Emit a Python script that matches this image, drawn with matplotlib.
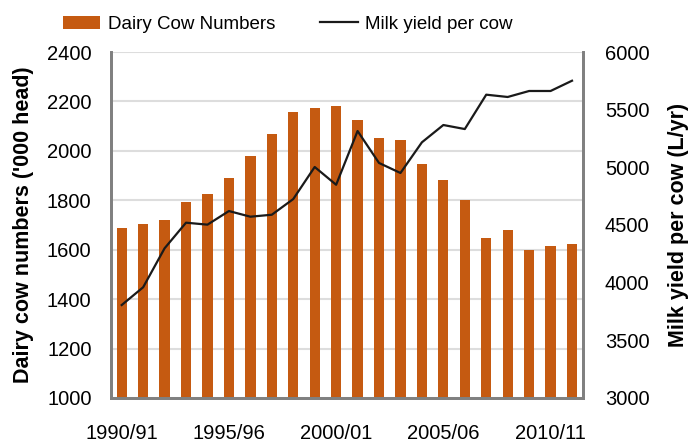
import matplotlib
matplotlib.use('Agg')
import matplotlib.pyplot as plt
import numpy as np

plt.rcParams['font.family'] = ['Liberation Sans', 'DejaVu Sans']

# financial years 1990/91 .. 2011/12
years = ['1990/91', '1991/92', '1992/93', '1993/94', '1994/95', '1995/96',
         '1996/97', '1997/98', '1998/99', '1999/00', '2000/01', '2001/02',
         '2002/03', '2003/04', '2004/05', '2005/06', '2006/07', '2007/08',
         '2008/09', '2009/10', '2010/11', '2011/12']
# dairy cow numbers ('000 head)
cows = [1687, 1704, 1720, 1792, 1824, 1889, 1978, 2067, 2156, 2172, 2180,
        2124, 2051, 2043, 1946, 1881, 1800, 1646, 1679, 1598, 1614, 1622]
# milk yield per cow (L/yr)
milk = [3806, 3960, 4298, 4520, 4503, 4621, 4572, 4589, 4725, 5003, 4849,
        5315, 5038, 4951, 5217, 5367, 5332, 5630, 5610, 5662, 5662, 5751]
shown_labels = ['1990/91', '1995/96', '2000/01', '2005/06', '2010/11']

bar_color = '#C55A11'
spine_color = '#808080'
grid_color = '#DDDDDD'

fig = plt.figure(figsize=(6.88, 4.43), dpi=100)
ax = fig.add_axes([0.1613, 0.1016, 0.847 - 0.1613, 0.8826 - 0.1016])
x = np.arange(len(years))
bars = ax.bar(x, cows, width=0.48, color=bar_color, zorder=2,
              label='Dairy Cow Numbers')
ax.set_ylim(1000, 2400)
ax.set_xlim(-0.5, len(years) - 0.5)
ax.set_yticks(range(1000, 2401, 200))
ax.yaxis.grid(True, color=grid_color, linewidth=1.5, zorder=0)
ax.set_axisbelow(True)
ticks = [years.index(s) for s in shown_labels]
ax.set_xticks(ticks)
ax.set_xticklabels(shown_labels)
ax.tick_params(axis='both', length=0, labelsize=14.5)
ax.tick_params(axis='y', pad=14)
ax.tick_params(axis='x', pad=19)
ax.set_ylabel("Dairy cow numbers ('000 head)", fontsize=15.5, fontweight='bold',
              labelpad=9)

ax2 = ax.twinx()
line, = ax2.plot(x, milk, color='#1a1a1a', linewidth=1.6,
                 label='Milk yield per cow', zorder=3)
ax2.set_ylim(3000, 6000)
ax2.set_yticks(range(3000, 6001, 500))
ax2.tick_params(axis='y', length=0, labelsize=14.5, pad=16)
ax2.set_ylabel('Milk yield per cow (L/yr)', fontsize=15.5, fontweight='bold',
               labelpad=13)

for a in (ax, ax2):
    a.spines['top'].set_visible(False)
    for s in ('left', 'right', 'bottom'):
        a.spines[s].set_color(spine_color)
        a.spines[s].set_linewidth(2)

fig.legend(handles=[bars, line], loc='center left',
           bbox_to_anchor=(0.067, 0.945), ncol=2, frameon=False,
           fontsize=13.5, handlelength=2.0, handletextpad=0.4,
           columnspacing=2.4)

fig.savefig('out.png', dpi=100)
